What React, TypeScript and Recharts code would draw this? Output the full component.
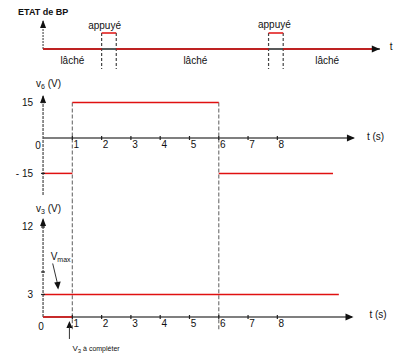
import React from 'react';
import { ComposedChart, Line, XAxis, YAxis, ReferenceLine, ReferenceDot } from 'recharts';

// shared time axis (s)
const timeTicks = [1, 2, 3, 4, 5, 6, 7, 8];

// ETAT de BP : 0 = lâché, 1 = appuyé
const pressWindows = [
  { from: 2.0, to: 2.5 },
  { from: 7.7, to: 8.2 },
];
const stateEnd = 11.25;
const stateLabels = [
  { t: 1.0, s: -0.7, text: 'lâché' },
  { t: 2.1, s: 1.5, text: 'appuyé' },
  { t: 5.2, s: -0.7, text: 'lâché' },
  { t: 7.9, s: 1.55, text: 'appuyé' },
  { t: 9.7, s: -0.7, text: 'lâché' },
];

// v6 (V)
const v6Segments = [
  { from: 0, to: 1, v: -15 },
  { from: 1, to: 6, v: 15 },
  { from: 6, to: 9.9, v: -15 },
];
const v6Edges = [1, 6];
const v6Ticks = [15, -15];
const v6TickLabels = ['15', '- 15'];

// v3 (V)
const v3Segments = [
  { from: 0, to: 1, v: 0 },
  { from: 0, to: 10.1, v: 3 },
];
const v3Ticks = [12, 6, 3];
const v3TickLabels = ['12', '', '3'];
const vMax = 3;

const W = 398;
const H = 355;
const FONT = '"Liberation Sans", Arial, sans-serif';
const RED = '#e01010';
const AXIS = '#555';
const DASH = '#777';

const stateSegments: { from: number; to: number; s: number }[] = [];
let cursor = 0;
pressWindows.forEach((w) => {
  stateSegments.push({ from: cursor, to: w.from, s: 0 });
  stateSegments.push({ from: w.from, to: w.to, s: 1 });
  cursor = w.to;
});
stateSegments.push({ from: cursor, to: stateEnd, s: 0 });

const UpArrow = ({ cx, cy }: any) => (
  <path d={`M${cx},${cy} L${cx - 3},${cy + 8} L${cx + 3},${cy + 8} Z`} fill="#111" />
);
const RightArrow = ({ cx, cy }: any) => (
  <path d={`M${cx},${cy} L${cx - 8},${cy - 3.5} L${cx - 8},${cy + 3.5} Z`} fill="#111" />
);

const txt = { fontFamily: FONT, fill: '#111' };

const TimeTick = ({ cx, cy, label }: any) => (
  <g>
    <line x1={cx} y1={cy - 2} x2={cx} y2={cy + 2} stroke="#222" strokeWidth={1.2} />
    <text x={cx + 4} y={cy + 10} fontSize={10} textAnchor="middle" {...txt}>{label}</text>
  </g>
);
const ValueTick = ({ cx, cy, label }: any) => (
  <g>
    <line x1={cx - 2} y1={cy} x2={cx + 2} y2={cy} stroke="#222" strokeWidth={1.2} />
    <text x={cx - 10} y={cy + 3.5} fontSize={10} textAnchor="end" {...txt}>{label}</text>
  </g>
);

export default function App() {
  return (
    <div style={{ position: 'absolute', left: 0, top: 0, width: W, height: H, background: '#fff' }}>
      <ComposedChart width={W} height={H} margin={{ top: 0, right: 0, bottom: 0, left: 0 }}>
        <XAxis xAxisId="t" type="number" dataKey="t" domain={[-1.47, 12.12]} allowDataOverflow hide />
        <YAxis yAxisId="bp" type="number" domain={[-19.125, 3.0625]} allowDataOverflow hide />
        <YAxis yAxisId="v6" type="number" domain={[-91.95, 58.47]} allowDataOverflow hide />
        <YAxis yAxisId="v3" type="number" domain={[-5.07, 42.27]} allowDataOverflow hide />

        {/* ---- ETAT de BP ---- */}
        <ReferenceLine xAxisId="t" yAxisId="bp" segment={[{ x: 0, y: 0 }, { x: 11.5, y: 0 }]} stroke="#222" strokeWidth={1.5} />
        <ReferenceLine xAxisId="t" yAxisId="bp" segment={[{ x: 0, y: 0 }, { x: 0, y: 1.75 }]} stroke={AXIS} strokeWidth={1.2} strokeDasharray="2 1" />
        <ReferenceDot xAxisId="t" yAxisId="bp" x={0} y={1.81} shape={(p: any) => (
          <g>
            <UpArrow {...p} />
            <text x={p.cx - 25} y={p.cy - 5} fontSize={9} fontWeight="bold" {...txt}>ETAT de BP</text>
          </g>
        )} />
        <ReferenceDot xAxisId="t" yAxisId="bp" x={11.5} y={0} shape={(p: any) => (
          <g>
            <RightArrow {...p} />
            <text x={p.cx + 10} y={p.cy + 1} fontSize={10} {...txt}>t</text>
          </g>
        )} />
        {pressWindows.map((w, i) =>
          [w.from, w.to].map((t, j) => (
            <ReferenceLine key={`pe${i}${j}`} xAxisId="t" yAxisId="bp" segment={[{ x: t, y: 1 }, { x: t, y: -1.25 }]} stroke="#444" strokeWidth={1.2} strokeDasharray="3 2" />
          ))
        )}
        {stateSegments.map((s, i) => (
          <Line key={`bp${i}`} xAxisId="t" yAxisId="bp" data={[{ t: s.from, s: s.s }, { t: s.to, s: s.s }]} dataKey="s"
            stroke={s.s === 0 && pressWindows.some((w) => w.from === s.from) ? '#222' : RED}
            strokeWidth={1.5} dot={false} isAnimationActive={false} />
        ))}
        {stateLabels.map((l, i) => (
          <ReferenceDot key={`bl${i}`} xAxisId="t" yAxisId="bp" x={l.t} y={l.s} shape={(p: any) => (
            <text x={p.cx} y={p.cy + 3.5} fontSize={10} textAnchor="middle" {...txt}>{l.text}</text>
          )} />
        ))}

        {/* ---- v6 ---- */}
        <ReferenceLine xAxisId="t" yAxisId="v6" segment={[{ x: 0, y: 0 }, { x: 10.6, y: 0 }]} stroke={AXIS} strokeWidth={1.3} />
        <ReferenceLine xAxisId="t" yAxisId="v6" segment={[{ x: 0, y: -24.2 }, { x: 0, y: 18 }]} stroke={AXIS} strokeWidth={1.3} strokeDasharray="3 1" />
        <ReferenceDot xAxisId="t" yAxisId="v6" x={0} y={18.2} shape={(p: any) => (
          <g>
            <UpArrow {...p} />
            <text x={p.cx - 7} y={p.cy - 8} fontSize={10} {...txt}>
              v<tspan fontSize={7} dy={2}>6</tspan><tspan dy={-2}> (V)</tspan>
            </text>
          </g>
        )} />
        <ReferenceDot xAxisId="t" yAxisId="v6" x={10.65} y={0} shape={(p: any) => (
          <g>
            <RightArrow {...p} />
            <text x={p.cx + 12} y={p.cy + 2} fontSize={10} {...txt}>t (s)</text>
          </g>
        )} />
        <ReferenceDot xAxisId="t" yAxisId="v6" x={0} y={0} shape={(p: any) => (
          <text x={p.cx - 5} y={p.cy + 11} fontSize={10} textAnchor="middle" {...txt}>0</text>
        )} />
        {timeTicks.map((t) => (
          <ReferenceDot key={`v6t${t}`} xAxisId="t" yAxisId="v6" x={t} y={0} shape={(p: any) => <TimeTick {...p} label={String(t)} />} />
        ))}
        {v6Ticks.map((v, i) => (
          <ReferenceDot key={`v6y${i}`} xAxisId="t" yAxisId="v6" x={0} y={v} shape={(p: any) => <ValueTick {...p} label={v6TickLabels[i]} />} />
        ))}
        {v6Edges.map((t) => (
          <ReferenceLine key={`v6e${t}`} xAxisId="t" yAxisId="v6" segment={[{ x: t, y: 15 }, { x: t, y: -26 }]} stroke={DASH} strokeWidth={1.2} strokeDasharray="4 2" />
        ))}
        {v6Segments.map((s, i) => (
          <Line key={`v6s${i}`} xAxisId="t" yAxisId="v6" data={[{ t: s.from, v: s.v }, { t: s.to, v: s.v }]} dataKey="v"
            stroke={RED} strokeWidth={1.5} dot={false} isAnimationActive={false} />
        ))}

        {/* ---- v3 ---- */}
        {v6Edges.map((t) => (
          <ReferenceLine key={`v3e${t}`} xAxisId="t" yAxisId="v3" segment={[{ x: t, y: 15.7 }, { x: t, y: -1.75 }]} stroke={DASH} strokeWidth={1.2} strokeDasharray="4 2" />
        ))}
        <ReferenceLine xAxisId="t" yAxisId="v3" segment={[{ x: 0, y: 0 }, { x: 10.55, y: 0 }]} stroke={AXIS} strokeWidth={1.3} />
        <ReferenceLine xAxisId="t" yAxisId="v3" segment={[{ x: 0, y: 0 }, { x: 0, y: 13 }]} stroke={AXIS} strokeWidth={1.3} strokeDasharray="3 1" />
        <ReferenceDot xAxisId="t" yAxisId="v3" x={0} y={13.2} shape={(p: any) => (
          <g>
            <UpArrow {...p} />
            <text x={p.cx - 7} y={p.cy - 6} fontSize={10} {...txt}>
              v<tspan fontSize={7} dy={2}>3</tspan><tspan dy={-2}> (V)</tspan>
            </text>
          </g>
        )} />
        <ReferenceDot xAxisId="t" yAxisId="v3" x={10.6} y={0} shape={(p: any) => (
          <g>
            <RightArrow {...p} />
            <text x={p.cx + 16} y={p.cy + 1} fontSize={10} {...txt}>t (s)</text>
          </g>
        )} />
        <ReferenceDot xAxisId="t" yAxisId="v3" x={0} y={0} shape={(p: any) => (
          <text x={p.cx - 2} y={p.cy + 13} fontSize={10} textAnchor="middle" {...txt}>0</text>
        )} />
        {timeTicks.map((t) => (
          <ReferenceDot key={`v3t${t}`} xAxisId="t" yAxisId="v3" x={t} y={0} shape={(p: any) => <TimeTick {...p} label={String(t)} />} />
        ))}
        {v3Ticks.map((v, i) => (
          <ReferenceDot key={`v3y${i}`} xAxisId="t" yAxisId="v3" x={0} y={v} shape={(p: any) => <ValueTick {...p} label={v3TickLabels[i]} />} />
        ))}
        {v3Segments.map((s, i) => (
          <Line key={`v3s${i}`} xAxisId="t" yAxisId="v3" data={[{ t: s.from, v: s.v }, { t: s.to, v: s.v }]} dataKey="v"
            stroke={RED} strokeWidth={1.5} dot={false} isAnimationActive={false} />
        ))}
        {/* Vmax annotation */}
        <ReferenceDot xAxisId="t" yAxisId="v3" x={0.5} y={vMax} shape={(p: any) => (
          <g>
            <line x1={p.cx - 5} y1={p.cy - 31} x2={p.cx} y2={p.cy - 10} stroke="#333" strokeWidth={1} />
            <path d={`M${p.cx + 0.5},${p.cy - 5} L${p.cx - 3.5},${p.cy - 12} L${p.cx + 3},${p.cy - 13} Z`} fill="#111" />
            <text x={p.cx - 7} y={p.cy - 34} fontSize={10} {...txt}>
              V<tspan fontSize={7} dy={2}>max</tspan>
            </text>
          </g>
        )} />
        {/* V3 à compléter annotation */}
        <ReferenceDot xAxisId="t" yAxisId="v3" x={0.9} y={0} shape={(p: any) => (
          <g>
            <path d={`M${p.cx},${p.cy + 4} L${p.cx - 3},${p.cy + 11} L${p.cx + 3},${p.cy + 11} Z`} fill="#111" />
            <line x1={p.cx} y1={p.cy + 10} x2={p.cx} y2={p.cy + 22} stroke="#333" strokeWidth={1} />
            <text x={p.cx + 3} y={p.cy + 34} fontSize={8} {...txt}>
              V<tspan fontSize={6} dy={2}>3</tspan><tspan dy={-2} fontSize={7}> à compléter</tspan>
            </text>
          </g>
        )} />
      </ComposedChart>
    </div>
  );
}
